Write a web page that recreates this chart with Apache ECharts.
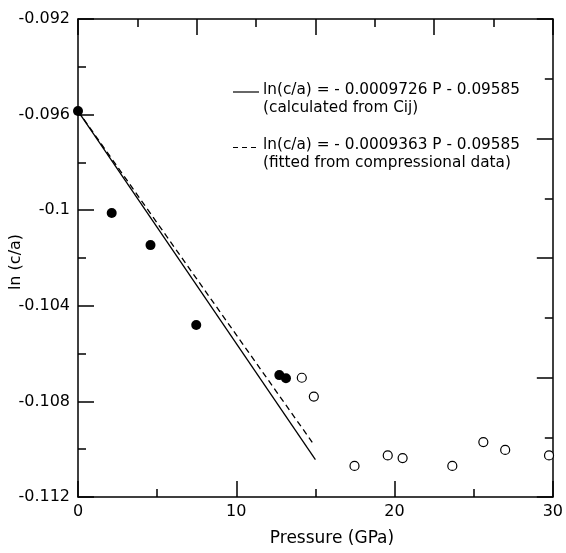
<!DOCTYPE html>
<html>
<head>
<meta charset="utf-8">
<script src="https://cdn.jsdelivr.net/npm/echarts@6/dist/echarts.min.js"></script>
<style>
html,body{margin:0;padding:0;background:#fff;}
#chart{width:566px;height:553px;}
</style>
</head>
<body>
<div id="chart"></div>
<script>
// ---- data ----
const filledPoints = [
  [0.0, -0.09585], [2.13, -0.10012], [4.58, -0.10146], [7.47, -0.10480],
  [12.72, -0.10690], [13.14, -0.10703]
];
const openPoints = [
  [14.14, -0.10701], [14.90, -0.10780], [17.47, -0.11070], [19.57, -0.11026],
  [20.51, -0.11037], [23.65, -0.11070], [25.61, -0.10970], [26.99, -0.11003],
  [29.76, -0.11026]
];
const calcLine = [[0, -0.09585], [15.0, -0.11044]];
const fitLine = [[0, -0.09585], [14.8, -0.10971]];
const xTickLabels = ['0', '10', '20', '30'];
const yTickLabels = ['-0.112', '-0.108', '-0.104', '-0.1', '-0.096', '-0.092'];
const legendTexts = [
  ['ln(c/a) = - 0.0009726 P - 0.09585', '(calculated from Cij)'],
  ['ln(c/a) = - 0.0009363 P - 0.09585', '(fitted from compressional data)']
];
const xTitle = 'Pressure (GPa)';
const yTitle = 'ln (c/a)';

const FONT = 'DejaVu Sans';
function axisCommon() {
  return {
    axisLine: { show: true, onZero: false, lineStyle: { color: '#000', width: 1.5 } },
    axisTick: { show: true, inside: true, length: 16, lineStyle: { color: '#000', width: 1.5 } },
    minorTick: { show: true, splitNumber: 2, length: 8, lineStyle: { color: '#000', width: 1.5 } },
    splitLine: { show: false },
    minorSplitLine: { show: false }
  };
}

const chart = echarts.init(document.getElementById('chart'), null, { renderer: 'canvas' });
chart.setOption({
  animation: false,
  backgroundColor: '#fff',
  grid: { left: 78, right: 10, top: 19, bottom: 56, containLabel: false },
  xAxis: [
    Object.assign(axisCommon(), {
      type: 'value', position: 'bottom', min: 0, max: 30, interval: 10,
      axisLabel: { show: true, color: '#000', fontFamily: FONT, fontSize: 16, margin: 7,
        formatter: (v, i) => xTickLabels[i] }
    }),
    Object.assign(axisCommon(), {
      type: 'value', position: 'top', min: 0, max: 8, interval: 2,
      axisLabel: { show: false }
    })
  ],
  yAxis: [
    Object.assign(axisCommon(), {
      type: 'value', position: 'left', min: -0.112, max: -0.092, interval: 0.004,
      axisLabel: { show: true, color: '#000', fontFamily: FONT, fontSize: 16, margin: 8,
        formatter: (v, i) => yTickLabels[i] }
    }),
    Object.assign(axisCommon(), {
      type: 'value', position: 'right', min: 0, max: 8, interval: 2,
      axisLabel: { show: false }
    })
  ],
  series: [
    { type: 'line', name: 'calc', data: calcLine, xAxisIndex: 0, yAxisIndex: 0,
      symbol: 'none', lineStyle: { color: '#000', width: 1.3, type: 'solid' }, z: 2 },
    { type: 'line', name: 'fit', data: fitLine, xAxisIndex: 0, yAxisIndex: 0,
      symbol: 'none', lineStyle: { color: '#000', width: 1.3, type: [6, 4] }, z: 2 },
    { type: 'scatter', name: 'filled', data: filledPoints, xAxisIndex: 0, yAxisIndex: 0,
      symbol: 'circle', symbolSize: 10, itemStyle: { color: '#000', opacity: 1 }, z: 3 },
    { type: 'scatter', name: 'open', data: openPoints, xAxisIndex: 0, yAxisIndex: 0,
      symbol: 'circle', symbolSize: 9,
      itemStyle: { color: '#fff', borderColor: '#000', borderWidth: 1.2, opacity: 1 }, z: 3 }
  ],
  graphic: [
    { type: 'line', shape: { x1: 233, y1: 92, x2: 259, y2: 92 },
      style: { stroke: '#000', lineWidth: 1.2 } },
    { type: 'text', left: 263, top: 83,
      style: { text: legendTexts[0][0], font: '15.3px "DejaVu Sans"', fill: '#000' } },
    { type: 'text', left: 263, top: 101,
      style: { text: legendTexts[0][1], font: '15.3px "DejaVu Sans"', fill: '#000' } },
    { type: 'line', shape: { x1: 233, y1: 147.5, x2: 259, y2: 147.5 },
      style: { stroke: '#000', lineWidth: 1.2, lineDash: [5, 4] } },
    { type: 'text', left: 263, top: 138,
      style: { text: legendTexts[1][0], font: '15.3px "DejaVu Sans"', fill: '#000' } },
    { type: 'text', left: 263, top: 156,
      style: { text: legendTexts[1][1], font: '15.3px "DejaVu Sans"', fill: '#000' } },
    { type: 'text', x: 332, y: 539,
      style: { text: xTitle, font: '17px "DejaVu Sans"', fill: '#000', align: 'center', verticalAlign: 'middle' } },
    { type: 'text', x: 16, y: 262, rotation: Math.PI / 2,
      style: { text: yTitle, font: '16px "DejaVu Sans"', fill: '#000', align: 'center', verticalAlign: 'middle' } }
  ]
});
</script>
</body>
</html>
